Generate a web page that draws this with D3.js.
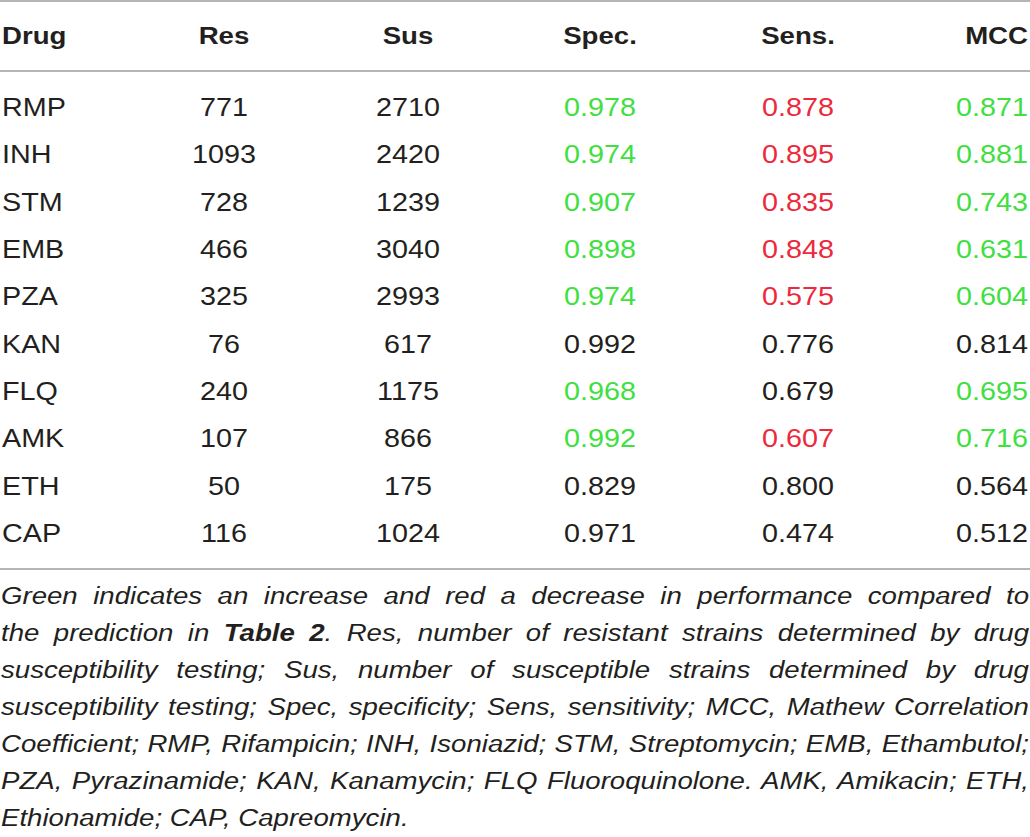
<!DOCTYPE html>
<html>
<head>
<meta charset="utf-8">
<script src="https://cdn.jsdelivr.net/npm/d3@7"></script>
<style>
  body{margin:0;background:#fff;font-family:"Liberation Sans",Arial,Helvetica,sans-serif;color:#231f20;}
  #wrap{position:relative;width:1030px;height:837px;overflow:hidden;}
  svg{position:absolute;left:0;top:0;}
  #caption{position:absolute;left:1px;top:578px;font-style:italic;font-size:23px;line-height:37px;transform-origin:0 0;}
  #caption .ln{text-align:justify;text-align-last:justify;white-space:nowrap;}
  #caption .ln.last{text-align-last:left;}
</style>
</head>
<body>
<div id="wrap">
  <svg id="tbl" width="1030" height="580"></svg>
  <div id="caption"></div>
</div>
<script>
// table data
const headers = ['Drug','Res','Sus','Spec.','Sens.','MCC'];
const drugs = ['RMP','INH','STM','EMB','PZA','KAN','FLQ','AMK','ETH','CAP'];
const resCounts = [771,1093,728,466,325,76,240,107,50,116];
const susCounts = [2710,2420,1239,3040,2993,617,1175,866,175,1024];
const spec = ['0.978','0.974','0.907','0.898','0.974','0.992','0.968','0.992','0.829','0.971'];
const sens = ['0.878','0.895','0.835','0.848','0.575','0.776','0.679','0.607','0.800','0.474'];
const mcc  = ['0.871','0.881','0.743','0.631','0.604','0.814','0.695','0.716','0.564','0.512'];
// change vs Table 2: 1 = increase (green), -1 = decrease (red), 0 = none
const specChange = [1,1,1,1,1,0,1,1,0,0];
const sensChange = [-1,-1,-1,-1,-1,0,0,-1,0,0];
const mccChange  = [1,1,1,1,1,0,1,1,0,0];

const captionLines = [
  ['Green indicates an increase and red a decrease in performance compared to'],
  ['the prediction in ', {b:'Table 2'}, '. Res, number of resistant strains determined by drug'],
  ['susceptibility testing; Sus, number of susceptible strains determined by drug'],
  ['susceptibility testing; Spec, specificity; Sens, sensitivity; MCC, Mathew Correlation'],
  ['Coefficient; RMP, Rifampicin; INH, Isoniazid; STM, Streptomycin; EMB, Ethambutol;'],
  ['PZA, Pyrazinamide; KAN, Kanamycin; FLQ Fluoroquinolone. AMK, Amikacin; ETH,'],
  ['Ethionamide; CAP, Capreomycin.']
];

const colour = {'1':'#3fe03f','-1':'#ec2a3c','0':'#231f20'};

const svg = d3.select('#tbl');
const fontSize = 25;
const stretch = 1.15;     // glyphs in the original are set wider
const capStretch = 1.2;

// column placement
const cols = [
  {x:2,    anchor:'start'},
  {x:224,  anchor:'middle'},
  {x:408,  anchor:'middle'},
  {x:600,  anchor:'middle'},
  {x:798,  anchor:'middle'},
  {x:1028, anchor:'end'}
];

const rows = drugs.map((d,i)=>[
  {v:d, c:0},
  {v:resCounts[i], c:0},
  {v:susCounts[i], c:0},
  {v:spec[i], c:specChange[i]},
  {v:sens[i], c:sensChange[i]},
  {v:mcc[i], c:mccChange[i]}
]);

const yRow = d3.scaleLinear().domain([0, drugs.length-1]).range([116, 542]);

// rules
const rules = [1, 71, 569];
svg.selectAll('line.rule').data(rules).join('line')
  .attr('class','rule')
  .attr('x1',0).attr('x2',1030)
  .attr('y1',d=>d).attr('y2',d=>d)
  .attr('stroke','#b4b4b4').attr('stroke-width',2);

// header
svg.append('g').selectAll('text').data(headers).join('text')
  .attr('transform',(d,i)=>`translate(${cols[i].x},44) scale(${stretch},1)`)
  .attr('text-anchor',(d,i)=>cols[i].anchor)
  .style('font-size','24px')
  .style('font-weight','bold')
  .attr('fill','#231f20')
  .text(d=>d);

// body
const rowG = svg.append('g').selectAll('g').data(rows).join('g')
  .attr('transform',(d,i)=>`translate(0,${yRow(i)})`);

rowG.selectAll('text').data(d=>d).join('text')
  .attr('transform',(d,i)=>`translate(${cols[i].x},0) scale(${stretch},1)`)
  .attr('text-anchor',(d,i)=>cols[i].anchor)
  .style('font-size',fontSize+'px')
  .attr('fill',d=>colour[d.c])
  .text(d=>d.v);

// caption, one justified block per line
const cap = d3.select('#caption')
  .style('width',(1028/capStretch)+'px')
  .style('transform',`scale(${capStretch},1)`);
captionLines.forEach((parts,i)=>{
  const ln = cap.append('div').attr('class','ln'+(i===captionLines.length-1?' last':''));
  parts.forEach(p=>{
    if(typeof p === 'string') ln.append('span').text(p);
    else ln.append('b').style('font-weight','bold').text(p.b);
  });
});
</script>
</body>
</html>
